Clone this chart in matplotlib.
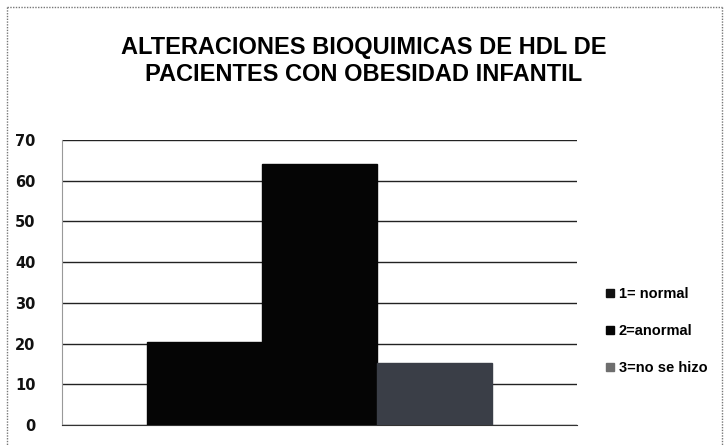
import matplotlib
matplotlib.use("Agg")
import matplotlib.pyplot as plt
from matplotlib.lines import Line2D

title = "ALTERACIONES BIOQUIMICAS DE HDL DE\nPACIENTES CON OBESIDAD INFANTIL"
series = ["1= normal", "2=anormal", "3=no se hizo"]
values = [20.5, 64.1, 15.3]
bar_colors = ["#050505", "#050505", "#3a3e47"]
legend_colors = ["#111111", "#050505", "#6e6e6e"]
yticks = [0, 10, 20, 30, 40, 50, 60, 70]

fig = plt.figure(figsize=(7.27, 4.45), dpi=100)
fig.patch.set_facecolor("white")

# outer dotted frame
W, H = 727, 445
def fx(x): return x / W
def fy(y): return 1 - y / H
frame_kw = dict(color="#777777", lw=1, ls=(0, (1, 1)), transform=fig.transFigure)
fig.add_artist(Line2D([fx(7), fx(722)], [fy(7), fy(7)], **frame_kw))
fig.add_artist(Line2D([fx(7), fx(7)], [fy(7), fy(445)], **frame_kw))
fig.add_artist(Line2D([fx(722), fx(722)], [fy(7), fy(445)], **frame_kw))

ax = fig.add_axes([62 / W, 1 - 425 / H, (577 - 62) / W, (425 - 140) / H])
for i, (lab, v, c) in enumerate(zip(series, values, bar_colors)):
    ax.bar(i, v, width=1.0, color=c, edgecolor=c, label=lab, zorder=3)

ax.set_xlim(-1.24, 3.24)
ax.set_ylim(0, 70)
ax.set_yticks(yticks)
ax.set_yticklabels([str(t) for t in yticks], fontsize=10.5, fontweight="bold",
                   family="DejaVu Sans", color="#111111")
ax.tick_params(axis="y", length=0, pad=19)
ax.set_xticks([])
ax.yaxis.grid(True, color="#222222", lw=1, zorder=0)
ax.set_axisbelow(True)
for s in ["top", "right"]:
    ax.spines[s].set_visible(False)
ax.spines["left"].set_color("#999999")
ax.spines["left"].set_linestyle((0, (1, 1)))
ax.spines["bottom"].set_color("#333333")

fig.text(364 / W, fy(61), title, ha="center", va="center", fontsize=17,
         fontweight="bold", family="Liberation Sans", linespacing=1.18)

handles = [Line2D([], [], marker="s", ls="", markersize=6, color=c) for c in legend_colors]
leg = fig.legend(handles, series, loc="center left", bbox_to_anchor=(592 / W, fy(331)),
                 frameon=False, handlelength=0.6, handletextpad=0.35, labelspacing=1.6,
                 prop=dict(family="Liberation Sans", weight="bold", size=10.5))

fig.savefig("out.png", dpi=100)
